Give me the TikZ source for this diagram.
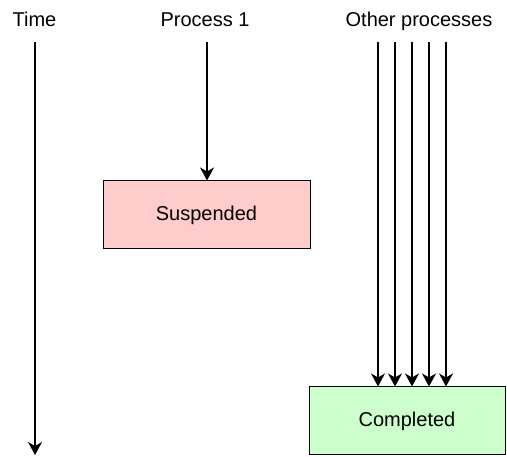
\documentclass[tikz,border=0pt]{standalone}
\usepackage{fontspec}
\setmainfont{Liberation Sans}
\usetikzlibrary{arrows.meta}
\definecolor{rose}{HTML}{FFCCCC}
\definecolor{vert}{HTML}{CCFFCC}
\begin{document}
\begin{tikzpicture}[x=1pt,y=-1pt]
\tikzset{titre/.style={inner sep=0pt, anchor=base, font=\fontsize{20}{23}\selectfont},
boite/.style={draw, line width=1pt, inner sep=0pt, font=\fontsize{20}{23}\selectfont},
fleche/.style={line width=1.5pt, -{Stealth[length=13pt,width=14pt,inset=4pt]}}}
\useasboundingbox (0,0) rectangle (507,457);
\node[titre] (temps) at (34.5,27) {Time};
\node[titre] (p1) at (205,27) {Process 1};
\node[titre] (autres) at (419,27) {Other processes};
\node[boite, fill=rose, minimum width=207pt, minimum height=68pt] (susp) at (206.5,215) {Suspended};
\node[boite, fill=vert, minimum width=196pt, minimum height=68pt] (fini) at (407,421) {Completed};
\coordinate (d0) at (35,42);
\coordinate (f0) at (35,455);
\coordinate (d1) at (207,42);
\draw[fleche] (d0) -- (f0);
\draw[fleche] (d1) -- (d1 |- susp.north);
\foreach \x in {378,395,412,429,446}
  \draw[fleche] (\x,42) -- (\x,42 |- fini.north);
\end{tikzpicture}
\end{document}
